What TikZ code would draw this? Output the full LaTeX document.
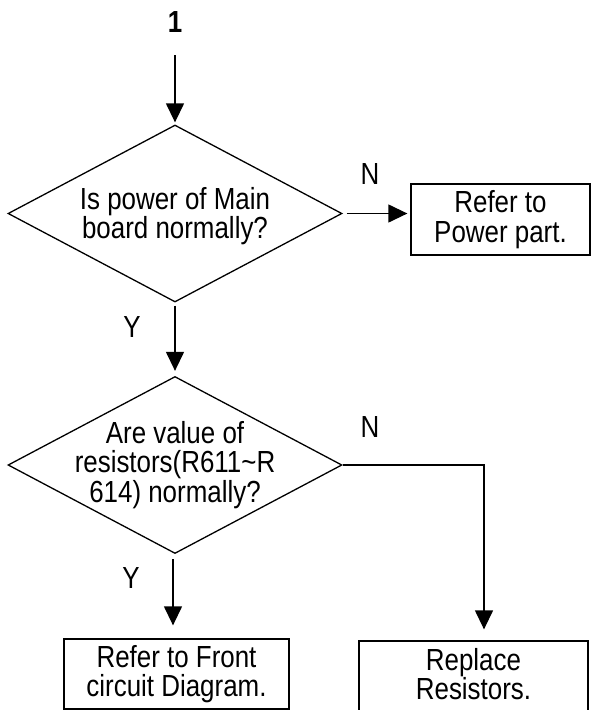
\documentclass[tikz,border=0pt]{standalone}
\usepackage{fontspec}
\setmainfont[FakeStretch=0.85]{Liberation Sans}
\usetikzlibrary{shapes.geometric,arrows.meta}
\begin{document}
\begin{tikzpicture}[x=1pt,y=-1pt,
  line width=1.3pt,
  txt/.style={font=\fontsize{30.5}{29.5}\selectfont, align=center, inner sep=0pt},
  decision/.style={draw, diamond, minimum width=334pt, minimum height=177pt, inner sep=0pt},
  stepbox/.style={draw, rectangle, inner sep=0pt},
  flow/.style={-{Triangle[length=19pt,width=18pt]}},
  mark label/.style={font=\fontsize{30.5}{30}\selectfont, inner sep=0pt}]
\useasboundingbox (0,0) rectangle (592,710);

% entry point
\node[font=\fontsize{30.5}{32}\selectfont\bfseries, inner sep=0pt] (one) at (175,22.5) {1};
\coordinate (entry) at (175,55);

% decisions
\node[decision] (d1) at (175,213.5) {};
\node[txt] (d1t) at (175,216) {Is power of Main\\board normally?};
\node[decision] (d2) at (175,465) {};
\node[txt] (d2t) at (175,465) {Are value of\\resistors(R611\textasciitilde R\\614) normally?};

% actions
\node[stepbox, minimum width=179pt, minimum height=71pt] (b1) at (500.5,219.5) {};
\node[txt] (b1t) at (b1) {Refer to\\Power part.};
\node[stepbox, minimum width=225pt, minimum height=70pt] (b2) at (176.5,674) {};
\node[txt] (b2t) at (b2) {Refer to Front\\circuit Diagram.};
\node[stepbox, minimum width=229pt, minimum height=72pt] (b3) at (473.5,677) {};
\node[txt] (b3t) at (473.5,674) {Replace\\Resistors.};

% branch labels
\node[mark label] (n1) at (370,174) {N};
\node[mark label] (y1) at (132,327) {Y};
\node[mark label] (n2) at (370,427) {N};
\node[mark label] (y2) at (131,578) {Y};

% connectors
\draw[flow, shorten >=2pt] (entry) -- (d1.north);
\draw[flow, shorten <=4pt, shorten >=3pt] (d1.east) -- (b1.west |- d1.east);
\draw[flow, shorten <=3pt, shorten >=5pt] (d1.south) -- (d2.north);
\coordinate (turn) at (484,465);
\draw[flow, shorten >=11pt] (d2.east) -- (turn) -- (turn |- b3.north);
\coordinate (yes2) at (173,553);
\draw[flow, shorten <=6pt, shorten >=13pt] (yes2) -- (yes2 |- b2.north);
\end{tikzpicture}
\end{document}
